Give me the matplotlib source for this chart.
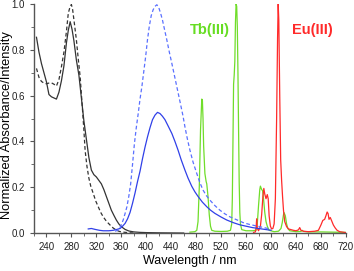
import matplotlib
matplotlib.use("Agg")
import matplotlib.pyplot as plt
from matplotlib.ticker import MultipleLocator

plt.rcParams['font.family'] = ['Liberation Sans', 'DejaVu Sans']

# absorbance, solid black
abs_solid_nm = [224, 228, 232, 236, 240, 244, 248, 252, 256, 260, 264, 268, 272, 275, 278,
                281, 284, 288, 292, 296, 300, 304, 308, 312, 316, 320, 324, 328, 332, 336,
                340, 344, 348, 352, 356, 360, 366, 372, 380, 390, 400, 420, 440, 460]
abs_solid = [0.855, 0.79, 0.74, 0.70, 0.66, 0.605, 0.595, 0.59, 0.585, 0.615, 0.665, 0.73,
             0.83, 0.885, 0.923, 0.89, 0.84, 0.755, 0.69, 0.59, 0.49, 0.41, 0.33, 0.275,
             0.255, 0.245, 0.23, 0.215, 0.19, 0.16, 0.13, 0.10, 0.078, 0.057, 0.04, 0.028,
             0.016, 0.009, 0.005, 0.003, 0.002, 0.001, 0.0005, 0.0]

# absorbance, dashed black
abs_dash_nm = [224, 228, 232, 236, 240, 244, 248, 252, 256, 260, 264, 268, 272, 275, 278,
               280, 282, 285, 288, 291, 294, 298, 300, 302, 305, 308, 311, 315, 319, 323,
               327, 331, 336, 342, 347, 352, 356, 360, 370, 380]
abs_dash = [0.719, 0.68, 0.662, 0.655, 0.652, 0.655, 0.656, 0.65, 0.642, 0.67, 0.726, 0.79,
            0.88, 0.96, 0.99, 0.998, 0.975, 0.91, 0.843, 0.76, 0.683, 0.53, 0.45, 0.36,
            0.29, 0.24, 0.205, 0.173, 0.14, 0.115, 0.09, 0.071, 0.052, 0.035, 0.022, 0.013,
            0.008, 0.005, 0.002, 0.0]

# ligand emission, solid blue
em_solid_nm = [307, 312, 318, 325, 331, 340, 347, 353, 358, 362, 366, 370, 374, 378, 382,
               386, 390, 394, 398, 402, 406, 410, 414, 418, 422, 426, 430, 435, 441, 446,
               451, 456, 462, 467, 473, 478, 483, 490, 497, 503, 510, 520, 529, 540, 550,
               560, 570, 580, 590, 600]
em_solid = [0.018, 0.02, 0.016, 0.012, 0.01, 0.01, 0.012, 0.016, 0.02, 0.03, 0.042, 0.062,
            0.09, 0.13, 0.175, 0.225, 0.27, 0.325, 0.375, 0.42, 0.46, 0.495, 0.515, 0.527,
            0.522, 0.51, 0.495, 0.468, 0.435, 0.40, 0.362, 0.32, 0.275, 0.24, 0.204, 0.18,
            0.16, 0.135, 0.115, 0.10, 0.086, 0.07, 0.057, 0.045, 0.036, 0.03, 0.024, 0.02,
            0.016, 0.012]

# ligand emission, dashed blue
em_dash_nm = [350, 355, 359, 363, 366, 369, 372, 375, 378, 381, 384, 387, 390, 393, 396,
              399, 402, 405, 408, 411, 414, 417, 420, 423, 426, 430, 433, 437, 441, 445,
              449, 454, 459, 462, 466, 470, 475, 481, 486, 491, 496, 502, 510, 518, 526,
              534, 545, 555, 565, 575, 585, 595, 600]
em_dash = [0.008, 0.013, 0.03, 0.057, 0.085, 0.115, 0.16, 0.215, 0.30, 0.39, 0.46, 0.52,
           0.585, 0.64, 0.705, 0.77, 0.845, 0.905, 0.95, 0.975, 0.99, 0.997, 0.985, 0.96,
           0.93, 0.88, 0.843, 0.79, 0.741, 0.69, 0.639, 0.575, 0.51, 0.464, 0.41, 0.362,
           0.31, 0.26, 0.22, 0.188, 0.165, 0.144, 0.12, 0.10, 0.084, 0.071, 0.058, 0.046,
           0.038, 0.032, 0.026, 0.02, 0.017]

# Tb(III) emission
tb_nm = [470, 478, 481, 483, 485, 487, 489, 490, 491, 492, 494, 496, 497, 499, 501, 503,
         505, 510, 520, 530, 535, 537, 538, 539, 540, 541, 542, 543, 544, 545, 546, 547,
         548, 549, 550, 551, 553, 560, 570, 576, 578, 580, 582, 583, 585, 586.5, 588, 590,
         592, 594, 597, 605, 612, 616, 618, 620, 621, 623, 625, 627, 630, 640, 648, 650,
         652, 660, 680, 700, 720]
tb = [0.004, 0.006, 0.012, 0.05, 0.20, 0.45, 0.585, 0.58, 0.50, 0.38, 0.26, 0.225, 0.215,
      0.16, 0.08, 0.03, 0.012, 0.008, 0.007, 0.008, 0.012, 0.04, 0.15, 0.40, 0.65, 0.69,
      0.75, 0.92, 1.0, 0.99, 0.90, 0.70, 0.45, 0.22, 0.09, 0.04, 0.015, 0.01, 0.01, 0.012,
      0.04, 0.12, 0.19, 0.205, 0.19, 0.185, 0.15, 0.09, 0.05, 0.03, 0.012, 0.006, 0.008,
      0.02, 0.045, 0.08, 0.089, 0.075, 0.04, 0.02, 0.01, 0.006, 0.007, 0.012, 0.007, 0.005,
      0.005, 0.004, 0.003]

# Eu(III) emission
eu_nm = [572, 575, 576, 577, 578, 580, 583, 585, 587, 588.5, 590, 592, 594, 595.5, 597,
         599, 601, 603, 605, 607, 609, 610.5, 611.5, 612.5, 614, 615.5, 617, 618.5, 620,
         622, 625, 628, 632, 636, 640, 644, 646, 648, 652, 660, 670, 676, 680, 683, 686,
         688, 690, 691.5, 693, 695, 697, 700, 703, 706, 710, 715, 720]
eu = [0.003, 0.005, 0.02, 0.062, 0.02, 0.01, 0.03, 0.08, 0.16, 0.195, 0.17, 0.15, 0.168,
      0.15, 0.075, 0.03, 0.018, 0.02, 0.04, 0.15, 0.50, 0.85, 1.0, 0.93, 0.60, 0.32, 0.23,
      0.16, 0.10, 0.05, 0.028, 0.018, 0.015, 0.012, 0.01, 0.014, 0.024, 0.012, 0.008,
      0.006, 0.008, 0.012, 0.035, 0.055, 0.06, 0.075, 0.092, 0.085, 0.06, 0.068, 0.055,
      0.035, 0.022, 0.012, 0.006, 0.004, 0.002]

fig = plt.figure(figsize=(3.54, 2.71), dpi=100)
ax = fig.add_axes([0.096, 0.140, 0.881, 0.845])

ax.plot(abs_solid_nm, abs_solid, color='#333333', lw=0.9)
ax.plot(abs_dash_nm, abs_dash, color='#333333', lw=0.9, ls=(0, (3, 2)))
ax.plot(tb_nm, tb, color='#70dd2a', lw=0.9)
ax.plot(eu_nm, eu, color='#ff2a2a', lw=0.9)
ax.plot(em_solid_nm, em_solid, color='#3040e8', lw=0.9)
ax.plot(em_dash_nm, em_dash, color='#5a70ff', lw=0.9, ls=(0, (3, 2)))

ax.text(502, 0.886, "Tb(III)", color='#66dd22', fontsize=10.5, fontweight='bold',
        ha='center', va='center')
ax.text(667, 0.886, "Eu(III)", color='#ff2a2a', fontsize=10.5, fontweight='bold',
        ha='center', va='center')

ax.set_xlim(220, 720)
ax.set_ylim(0, 1.0)
ax.xaxis.set_minor_locator(MultipleLocator(20))
ax.yaxis.set_major_locator(MultipleLocator(0.2))
ax.yaxis.set_minor_locator(MultipleLocator(0.1))
ax.set_xticks(range(240, 721, 40))
ax.yaxis.set_major_formatter(plt.FormatStrFormatter('%.1f'))

for side in ['top', 'right']:
    ax.spines[side].set_visible(False)
for side in ['left', 'bottom']:
    ax.spines[side].set_color('#555555')
    ax.spines[side].set_linewidth(1.0)
ax.tick_params(which='both', direction='out', colors='#555555', labelcolor='#222222',
               labelsize=7, pad=3.5)
ax.tick_params(which='major', length=3)
ax.tick_params(which='minor', length=2)

ax.set_xlabel("Wavelength / nm", fontsize=9)
ax.xaxis.set_label_coords(0.50, -0.095)
ax.set_ylabel("Normalized Absorbance/Intensity", fontsize=9.3)
ax.yaxis.set_label_coords(-0.068, 0.47)

fig.savefig("out.png", dpi=100)
